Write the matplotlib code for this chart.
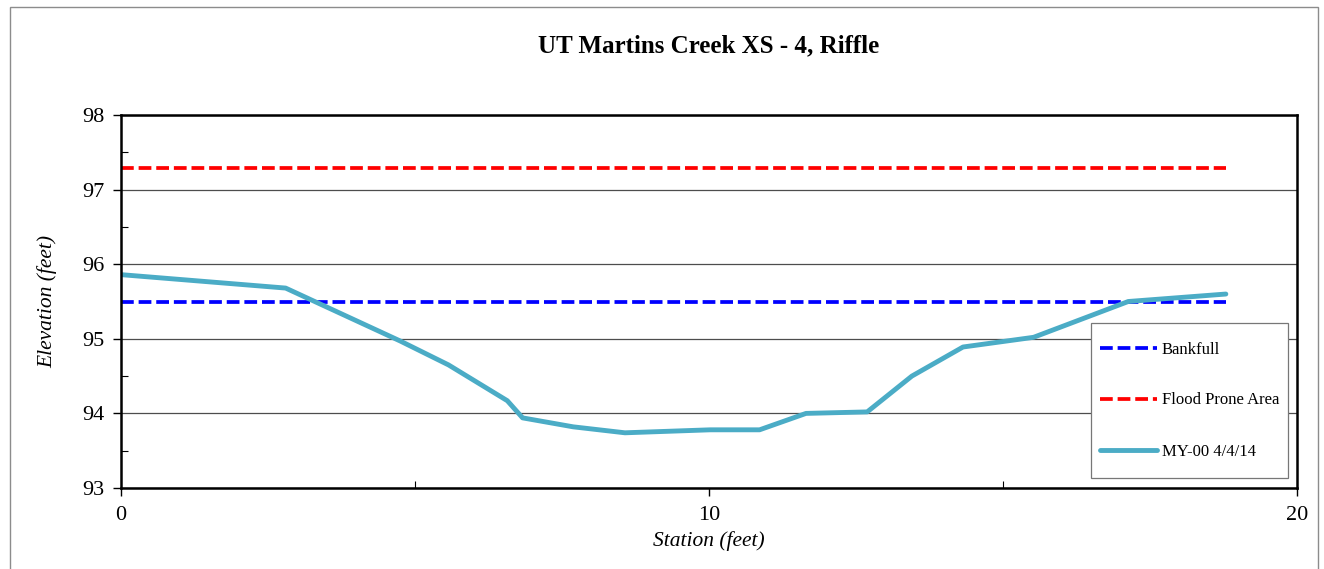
import matplotlib
matplotlib.use("Agg")
import matplotlib.pyplot as plt
from matplotlib.patches import Rectangle

# cross-section survey data
station = [0.0, 2.8, 4.75, 5.57, 6.57, 6.83, 7.69, 8.57, 10.02, 10.86, 11.65, 12.69,
           13.45, 14.32, 15.52, 17.13, 18.79]
elevation = [95.86, 95.68, 94.97, 94.65, 94.17, 93.94, 93.82, 93.74, 93.78, 93.78,
             94.00, 94.02, 94.50, 94.89, 95.02, 95.50, 95.60]

bankfull = 95.49
flood_prone = 97.29
level_extent = [0.0, 18.79]

y_ticks = [93, 94, 95, 96, 97, 98]
x_ticks = [0, 10, 20]

plt.rcParams['font.family'] = ['Liberation Serif', 'DejaVu Serif']

W, H = 1324, 569
fig = plt.figure(figsize=(W / 100, H / 100), dpi=100)
ax = fig.add_axes([121 / W, 1 - 488 / H, (1297 - 121) / W, (488 - 115) / H])

# outer chart border
fig.patches.append(Rectangle((10 / W, -0.1), (1318 - 10) / W, 1.1 - 7 / H,
                             transform=fig.transFigure, fill=False,
                             edgecolor='#8c8c8c', lw=1.0))

ax.plot(level_extent, [bankfull, bankfull], color='#0000ff', lw=2.7,
        dashes=(3.4, 1.3), label='Bankfull')
ax.plot(level_extent, [flood_prone, flood_prone], color='#ff0000', lw=2.7,
        dashes=(3.4, 1.3), label='Flood Prone Area')
ax.plot(station, elevation, color='#4bacc6', lw=3.5, label='MY-00 4/4/14',
        solid_joinstyle='round', solid_capstyle='round')

ax.set_xlim(0, 20)
ax.set_ylim(93, 98)
ax.set_xticks(x_ticks)
ax.set_yticks(y_ticks)
ax.set_xticks([5, 15], minor=True)
ax.set_yticks([93.5, 94.5, 95.5, 96.5, 97.5], minor=True)
ax.tick_params(axis='both', which='major', direction='out', length=6, width=1,
               labelsize=16, color='black')
ax.tick_params(axis='both', which='minor', direction='in', length=5, width=0.8)
ax.tick_params(axis='x', pad=7)
ax.tick_params(axis='y', pad=6)
ax.grid(axis='y', which='major', color='#4d4d4d', lw=0.9)
ax.set_axisbelow(True)
for s in ax.spines.values():
    s.set_linewidth(1.8)

ax.set_title('UT Martins Creek XS - 4, Riffle', fontsize=18, fontweight='bold', pad=45)
ax.set_xlabel('Station (feet)', fontsize=15.5, style='italic', labelpad=4)
ax.set_ylabel('Elevation (feet)', fontsize=15.5, style='italic', labelpad=18)

# legend box (drawn as a separate frame so the padding can be taller than wide)
box_l, box_r, box_t, box_b = 1091, 1288, 323, 478
ax.add_patch(Rectangle((box_l / W, 1 - box_b / H), (box_r - box_l) / W, (box_b - box_t) / H,
                       transform=fig.transFigure, facecolor='white', edgecolor='#777777',
                       lw=0.9, zorder=4.5, clip_on=False))
leg = ax.legend(loc='center', bbox_to_anchor=((box_l + box_r) / 2 / W, 1 - (box_t + box_b) / 2 / H),
                bbox_transform=fig.transFigure, fontsize=12, frameon=False,
                handlelength=3.4, labelspacing=2.1, borderpad=0, handletextpad=0.3,
                borderaxespad=0)
leg.set_zorder(5)

fig.savefig('out.png', dpi=100)
